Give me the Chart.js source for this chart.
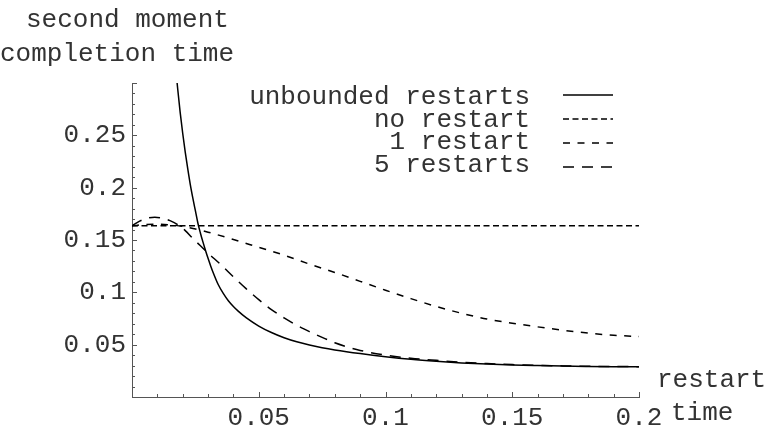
<!DOCTYPE html>
<html>
<head>
<meta charset="utf-8">
<script src="https://cdn.jsdelivr.net/npm/chart.js@4.4.1/dist/chart.umd.min.js"></script>
<style>
  html, body { margin: 0; padding: 0; background: #fff; }
  #wrap { width: 769px; height: 428px; }
</style>
</head>
<body>
<div id="wrap"><canvas id="chart" width="769" height="428"></canvas></div>
<script>
// values
const unboundedX = [0.016, 0.017, 0.018, 0.019, 0.020, 0.021, 0.022, 0.023, 0.024, 0.025, 0.026, 0.027, 0.028, 0.029, 0.030, 0.031, 0.032, 0.034, 0.036, 0.038, 0.040, 0.042, 0.045, 0.050, 0.055, 0.060, 0.065, 0.070, 0.075, 0.080, 0.090, 0.100, 0.110, 0.120, 0.130, 0.140, 0.150, 0.160, 0.170, 0.180, 0.190, 0.200];
const unboundedY = [0.348, 0.320, 0.295, 0.272, 0.252, 0.234, 0.218, 0.203, 0.190, 0.178, 0.166, 0.1565, 0.148, 0.140, 0.1325, 0.1255, 0.119, 0.1075, 0.099, 0.092, 0.0865, 0.0818, 0.0758, 0.0678, 0.0616, 0.0566, 0.0527, 0.0496, 0.0471, 0.045, 0.0415, 0.0385, 0.036, 0.0341, 0.0326, 0.0315, 0.0306, 0.030, 0.0295, 0.0292, 0.029, 0.0289];

const noRestartX = [0, 0.2];
const noRestartY = [0.1635, 0.1635];

const oneRestartX = [0, 0.005, 0.010, 0.015, 0.020, 0.025, 0.030, 0.040, 0.050, 0.060, 0.070, 0.080, 0.090, 0.100, 0.110, 0.120, 0.130, 0.140, 0.150, 0.160, 0.170, 0.180, 0.190, 0.200];
const oneRestartY = [0.1635, 0.1648, 0.1652, 0.1645, 0.163, 0.1605, 0.1575, 0.1505, 0.143, 0.1355, 0.127, 0.119, 0.1105, 0.102, 0.094, 0.0865, 0.080, 0.0745, 0.0705, 0.067, 0.0638, 0.061, 0.059, 0.0577];

const fiveRestartsX = [0, 0.003, 0.006, 0.009, 0.012, 0.015, 0.018, 0.021, 0.024, 0.027, 0.030, 0.035, 0.040, 0.045, 0.050, 0.055, 0.060, 0.065, 0.070, 0.075, 0.080, 0.085, 0.090, 0.100, 0.110, 0.120, 0.130, 0.140, 0.150, 0.160, 0.170, 0.180, 0.190, 0.200];
const fiveRestartsY = [0.1635, 0.168, 0.1708, 0.1718, 0.1708, 0.1685, 0.1648, 0.159, 0.1515, 0.1445, 0.1375, 0.1265, 0.1148, 0.1035, 0.093, 0.0835, 0.0755, 0.0685, 0.0625, 0.057, 0.0518, 0.0478, 0.0445, 0.040, 0.037, 0.035, 0.0333, 0.032, 0.031, 0.0303, 0.0297, 0.0293, 0.0291, 0.029];

const seriesNames = ['unbounded restarts', 'no restart', '1 restart', '5 restarts'];
const seriesDash = [[], [6, 3.5], [7, 7.5], [11, 8]];

const xTicks = [0.05, 0.1, 0.15, 0.2];
const yTicks = [0.05, 0.1, 0.15, 0.2, 0.25];
const yTitle = ['second moment', 'completion time'];
const xTitle = ['restart', 'time'];

const FONT_FAMILY = '"Liberation Mono", "Courier New", monospace';
const FONT = '26px ' + FONT_FAMILY;
const TEXT = '#333';

function toPoints(xs, ys) {
    return xs.map((x, i) => ({ x: x, y: ys[i] }));
}

function makeDataset(label, xs, ys, dash) {
    return {
        label: label,
        data: toPoints(xs, ys),
        borderColor: '#000',
        borderWidth: 1.5,
        borderDash: dash,
        pointRadius: 0,
        fill: false,
        cubicInterpolationMode: 'monotone',
    };
}

function fmt(v) {
    const r = Math.round(v * 100) / 100;
    return xTicks.includes(r) || yTicks.includes(r) ? String(r) : '';
}

// inner tick marks, axis titles and the text legend
const decorations = {
    id: 'decorations',
    afterDraw(chart) {
        const ctx = chart.ctx;
        const xs = chart.scales.x;
        const ys = chart.scales.y;
        const x0 = xs.getPixelForValue(0);
        const y0 = ys.getPixelForValue(0);
        ctx.save();
        ctx.strokeStyle = '#555';
        ctx.lineWidth = 1;
        ctx.beginPath();
        for (let i = 1; i <= 20; i++) {
            const px = Math.round(xs.getPixelForValue(i / 100)) + 0.5;
            const len = i % 5 === 0 ? 5 : 3;
            ctx.moveTo(px, y0);
            ctx.lineTo(px, y0 - len);
        }
        for (let i = 1; i <= 30; i++) {
            const py = Math.round(ys.getPixelForValue(i / 100)) + 0.5;
            const len = i % 5 === 0 ? 5 : 3;
            ctx.moveTo(x0, py);
            ctx.lineTo(x0 + len, py);
        }
        ctx.stroke();

        ctx.font = FONT;
        ctx.fillStyle = TEXT;
        ctx.textBaseline = 'alphabetic';
        ctx.textAlign = 'left';
        ctx.fillText(yTitle[0], 26, 27);
        ctx.fillText(yTitle[1], 0, 61);
        ctx.fillText(xTitle[0], 657, 387);
        ctx.fillText(xTitle[1], 671, 420);

        // legend
        const baselines = [104, 127, 149, 172];
        const lineYs = [95, 119, 143, 167];
        ctx.textAlign = 'right';
        seriesNames.forEach((name, i) => {
            ctx.fillStyle = TEXT;
            ctx.fillText(name, 530, baselines[i]);
            ctx.beginPath();
            ctx.strokeStyle = '#000';
            ctx.lineWidth = 1.5;
            ctx.setLineDash(seriesDash[i]);
            ctx.moveTo(563, lineYs[i]);
            ctx.lineTo(613, lineYs[i]);
            ctx.stroke();
        });
        ctx.restore();
    }
};

const chart = new Chart(document.getElementById('chart'), {
    type: 'line',
    data: {
        datasets: [
            makeDataset(seriesNames[0], unboundedX, unboundedY, seriesDash[0]),
            makeDataset(seriesNames[1], noRestartX, noRestartY, seriesDash[1]),
            makeDataset(seriesNames[2], oneRestartX, oneRestartY, seriesDash[2]),
            makeDataset(seriesNames[3], fiveRestartsX, fiveRestartsY, seriesDash[3]),
        ],
    },
    options: {
        responsive: false,
        animation: false,
        layout: { padding: { top: 83, right: 130, left: 0, bottom: 0 } },
        plugins: { legend: { display: false }, tooltip: { enabled: false } },
        scales: {
            x: {
                type: 'linear',
                min: 0,
                max: 0.2,
                grid: { display: false, drawTicks: false },
                border: { display: true, color: '#555', width: 1 },
                ticks: {
                    stepSize: 0.05,
                    padding: 6,
                    maxRotation: 0,
                    autoSkip: false,
                    color: TEXT,
                    font: { family: FONT_FAMILY, size: 26 },
                    callback: v => fmt(v),
                },
                afterFit: scale => { scale.height = 31; },
            },
            y: {
                type: 'linear',
                min: 0,
                max: 0.3,
                grid: { display: false, drawTicks: false },
                border: { display: true, color: '#555', width: 1 },
                ticks: {
                    stepSize: 0.05,
                    padding: 6,
                    color: TEXT,
                    font: { family: FONT_FAMILY, size: 26 },
                    callback: v => fmt(v),
                },
                afterFit: scale => { scale.width = 132; },
            },
        },
    },
    plugins: [decorations],
});
</script>
</body>
</html>
